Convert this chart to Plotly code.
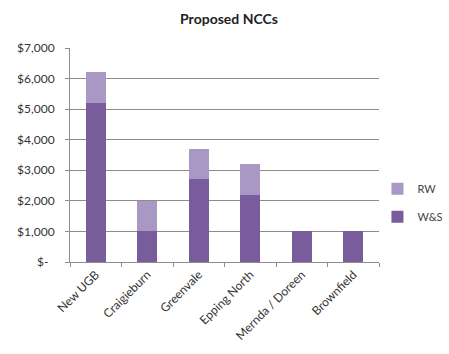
import plotly.graph_objects as go

categories = ["New UGB", "Craigieburn", "Greenvale", "Epping North", "Mernda / Doreen", "Brownfield"]
ws_values = [5200, 1000, 2700, 2200, 1000, 1000]
rw_values = [1000, 1000, 1000, 1000, 0, 0]
tick_vals = [0, 1000, 2000, 3000, 4000, 5000, 6000, 7000]
tick_text = ["$-\u00a0\u00a0", "$1,000", "$2,000", "$3,000", "$4,000", "$5,000", "$6,000", "$7,000"]

FONT = "Lato, Open Sans, sans-serif"

fig = go.Figure()
fig.add_trace(go.Bar(x=categories, y=ws_values, name="W&S", marker_color="#785c9c",
                     legendgroup="a", legendrank=2, marker_line_width=0))
fig.add_trace(go.Bar(x=categories, y=rw_values, name="RW", marker_color="#a997c4",
                     legendgroup="b", legendrank=1, marker_line_width=0))

fig.update_layout(
    barmode="stack",
    bargap=0.61,
    width=449, height=354,
    margin=dict(l=70, r=70, t=48, b=92, autoexpand=False),
    paper_bgcolor="white", plot_bgcolor="white",
    font=dict(family=FONT, size=12, color="#333"),
    title=dict(text="<b>Proposed NCCs</b>", x=0.51, xanchor="center", y=0.945, yanchor="middle",
               font=dict(family=FONT, size=14, color="#222")),
    legend=dict(x=0.995, xanchor="left", y=0.41, yanchor="top", traceorder="grouped",
                tracegroupgap=9, font=dict(size=11, color="#444"), itemwidth=30,
                bgcolor="rgba(0,0,0,0)"),
    showlegend=True,
)
fig.update_yaxes(range=[0, 7000], tickvals=tick_vals, ticktext=tick_text,
                 showgrid=True, gridcolor="#8c8c8c", gridwidth=1,
                 showline=True, linecolor="#8c8c8c", ticks="outside", ticklen=4,
                 tickcolor="#8c8c8c", zeroline=False, ticklabelstandoff=8,
                 tickfont=dict(size=12, color="#333"))
fig.update_xaxes(showline=True, linecolor="#8c8c8c", ticks="outside", ticklen=4,
                 tickcolor="#8c8c8c", tickson="boundaries", tickangle=-45,
                 tickfont=dict(size=12, color="#333"))

fig.write_html("out.html")
